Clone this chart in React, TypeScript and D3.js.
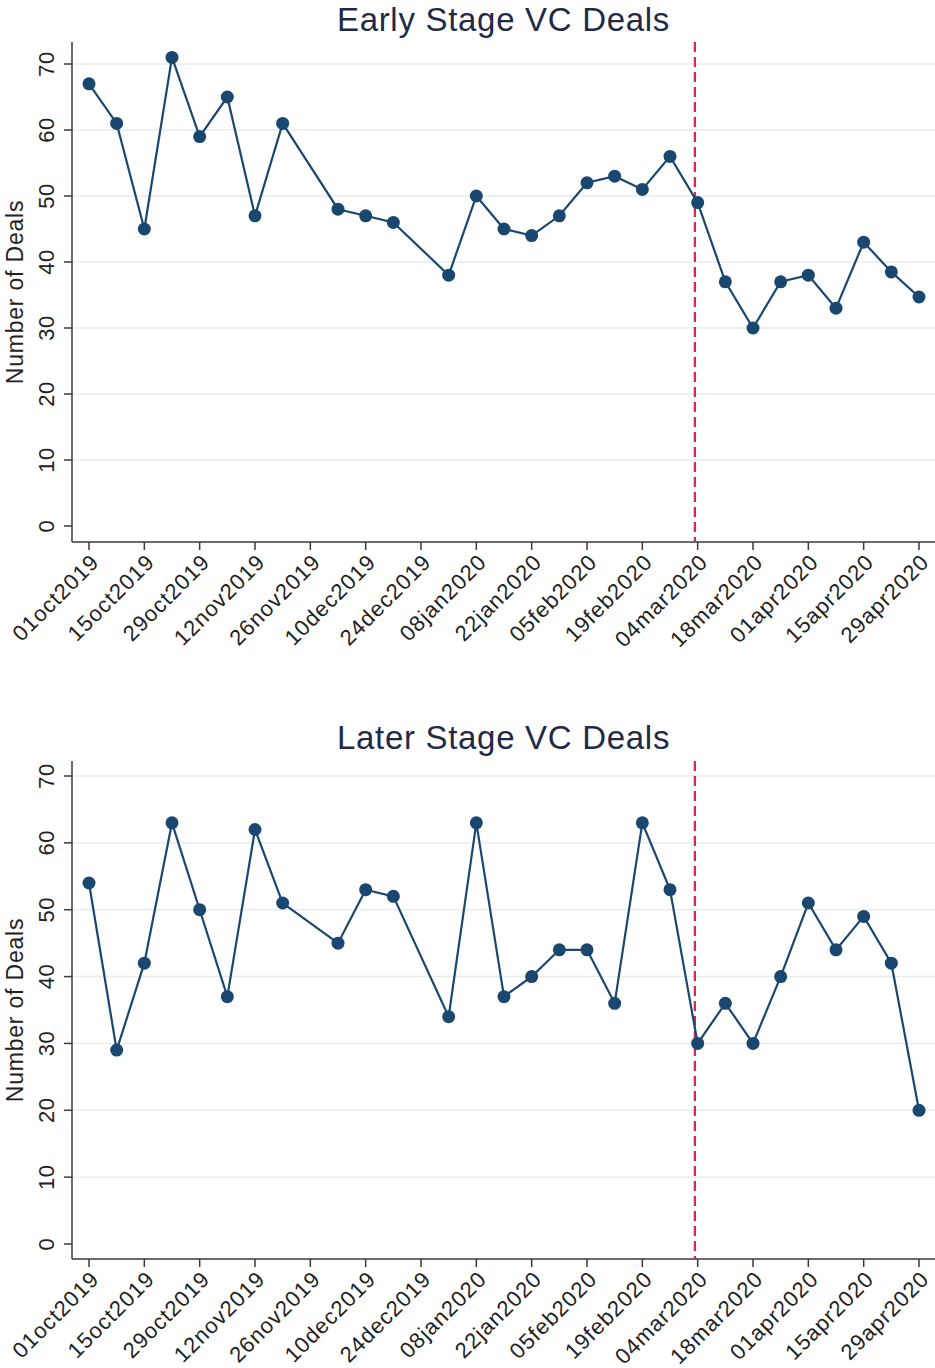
import React from 'react'
import * as d3 from 'd3'

// week index (0 = 01oct2019, Stata weekly dates) for each observation
const weeks = [0, 1, 2, 3, 4, 5, 6, 7, 9, 10, 11, 13, 14, 15, 16, 17, 18, 19, 20, 21, 22, 23, 24, 25, 26, 27, 28, 29, 30]

const earlyDeals = [67, 61, 45, 71, 59, 65, 47, 61, 48, 47, 46, 38, 50, 45, 44, 47, 52, 53, 51, 56, 49, 37, 30, 37, 38, 33, 43, 38.5, 34.7]
const laterDeals = [54, 29, 42, 63, 50, 37, 62, 51, 45, 53, 52, 34, 63, 37, 40, 44, 44, 36, 63, 53, 30, 36, 30, 40, 51, 44, 49, 42, 20]

const tickLabels = [
  '01oct2019', '15oct2019', '29oct2019', '12nov2019', '26nov2019', '10dec2019', '24dec2019', '08jan2020',
  '22jan2020', '05feb2020', '19feb2020', '04mar2020', '18mar2020', '01apr2020', '15apr2020', '29apr2020',
]
const tickWeeks = tickLabels.map((_, i) => i * 2)
const yTicks = [0, 10, 20, 30, 40, 50, 60, 70]

// vertical marker (early March 2020)
const eventWeek = 21.9

const FONT = '"Liberation Sans", Arial, Helvetica, sans-serif'
const NAVY = '#1a476f'
const TITLE = '#1f2a48'
const AXIS = '#3a3a3a'
const GRID = '#e9ecef'
const RED = '#d02a5c'

const W = 935
const H = 1368
const LEFT = 72
const RIGHT = 935

const x = d3.scaleLinear().domain([0, 30]).range([89, 919])

const Panel = ({ title, values, top, y70, y0, axisY, titleY }) => {
  const y = d3.scaleLinear().domain([0, 70]).range([y0, y70])
  const pts = weeks.map((w, i) => [w, values[i]])
  const line = d3.line().x(d => x(d[0])).y(d => y(d[1]))

  return (
    <g>
      <text x={(LEFT + RIGHT) / 2} y={titleY} textAnchor="middle" fontSize={33} letterSpacing={0.7} fill={TITLE} fontFamily={FONT}>
        {title}
      </text>

      {/* gridlines */}
      {yTicks.slice(1).map(t => (
        <line key={t} x1={LEFT + 1} x2={RIGHT} y1={y(t)} y2={y(t)} stroke={GRID} strokeWidth={1.5} />
      ))}

      {/* y axis */}
      <line x1={LEFT} x2={LEFT} y1={top} y2={axisY} stroke={AXIS} strokeWidth={1.5} />
      {yTicks.map(t => (
        <g key={t}>
          <line x1={LEFT - 8} x2={LEFT} y1={y(t)} y2={y(t)} stroke={AXIS} strokeWidth={1.5} />
          <text transform={`translate(54,${y(t)}) rotate(-90)`} textAnchor="middle" fontSize={22} letterSpacing={0.5} fill="#222" fontFamily={FONT}>
            {t}
          </text>
        </g>
      ))}
      <text transform={`translate(23,${(top + axisY) / 2}) rotate(-90)`} textAnchor="middle" fontSize={23} letterSpacing={0.8} fill="#222" fontFamily={FONT}>
        Number of Deals
      </text>

      {/* x axis */}
      <line x1={LEFT} x2={RIGHT} y1={axisY} y2={axisY} stroke={AXIS} strokeWidth={1.5} />
      {tickWeeks.map((w, i) => (
        <g key={w}>
          <line x1={x(w)} x2={x(w)} y1={axisY} y2={axisY + 8} stroke={AXIS} strokeWidth={1.5} />
          <text transform={`translate(${x(w) + 6},${axisY + 16}) rotate(-45)`} textAnchor="end" dy="0.35em" fontSize={22} letterSpacing={1} fill="#222" fontFamily={FONT}>
            {tickLabels[i]}
          </text>
        </g>
      ))}

      {/* event line */}
      <line x1={x(eventWeek)} x2={x(eventWeek)} y1={top} y2={axisY} stroke={RED} strokeWidth={2.3} strokeDasharray="10,5" />

      {/* series */}
      <path d={line(pts)} fill="none" stroke={NAVY} strokeWidth={2.2} />
      {pts.map((p, i) => (
        <circle key={i} cx={x(p[0])} cy={y(p[1])} r={6.5} fill={NAVY} />
      ))}
    </g>
  )
}

export default function App() {
  return (
    <svg width={W} height={H} style={{ position: 'absolute', left: 0, top: 0, background: '#fff' }}>
      <rect width={W} height={H} fill="#fff" />
      <Panel title="Early Stage VC Deals" values={earlyDeals} top={42} y70={64} y0={526} axisY={542} titleY={31} />
      <Panel title="Later Stage VC Deals" values={laterDeals} top={761} y70={776} y0={1244} axisY={1259} titleY={749} />
    </svg>
  )
}
